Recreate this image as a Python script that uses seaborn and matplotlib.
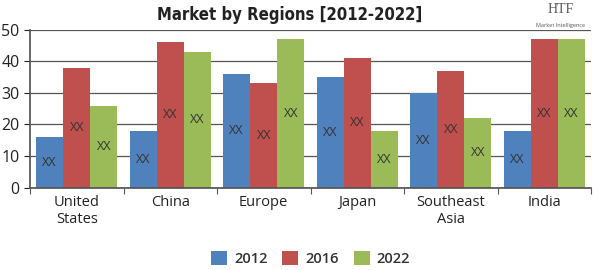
import matplotlib
matplotlib.use("Agg")
import matplotlib.pyplot as plt
import seaborn as sns
import pandas as pd

regions = ["United\nStates", "China", "Europe", "Japan", "Southeast\nAsia", "India"]
years = ["2012", "2016", "2022"]
v2012 = [16, 18, 36, 35, 30, 18]
v2016 = [38, 46, 33, 41, 37, 47]
v2022 = [26, 43, 47, 18, 22, 47]
bar_labels = ["XX"] * 6
colors = ["#4F81BD", "#C0504D", "#9BBB59"]

df = pd.DataFrame({
    "region": regions * 3,
    "year": [years[0]] * 6 + [years[1]] * 6 + [years[2]] * 6,
    "value": v2012 + v2016 + v2022,
})

sns.set_theme(style="white")
plt.rcParams["font.family"] = ["Open Sans", "DejaVu Sans"]

fig = plt.figure(figsize=(6, 2.7), dpi=100)
ax = fig.add_axes([0.05, 0.305, 0.935, 0.585])

sns.barplot(data=df, x="region", y="value", hue="year", palette=colors,
            width=0.87, gap=0, saturation=1, ax=ax, legend=True, linewidth=0,
            edgecolor="none")

for c in ax.containers:
    ax.bar_label(c, labels=bar_labels, label_type="center", fontsize=9, color="#333333")

ax.set_ylim(0, 50)
ax.set_yticks([0, 10, 20, 30, 40, 50])
ax.yaxis.grid(True, color="#555555", linewidth=0.9)
ax.set_axisbelow(True)
ax.set_xlabel("")
ax.set_ylabel("")
for s in ["top", "right"]:
    ax.spines[s].set_visible(False)
ax.spines["left"].set_color("#555555")
ax.spines["bottom"].set_color("#555555")
ax.tick_params(axis="y", labelsize=11.5, colors="#222222", length=4, left=True, width=0.8)
ax.tick_params(axis="x", labelsize=10.5, colors="#222222", length=0, pad=5)
for t in ax.get_yticklabels():
    t.set_color("#222222")
ax.set_xticks([i + 0.5 for i in range(-1, 6)], minor=True)
ax.tick_params(axis="x", which="minor", length=4, bottom=True, color="#555555", width=0.8)
ax.set_xlim(-0.5, 5.5)

leg = ax.legend(loc="upper center", bbox_to_anchor=(0.5, -0.32), ncol=3, frameon=False,
                fontsize=10.5, handlelength=1.1, handleheight=1.1, columnspacing=1.0,
                handletextpad=0.5)
for t in leg.get_texts():
    t.set_color("#333333")
    t.set_fontweight("semibold")

fig.text(0.483, 0.945, "Market by Regions [2012-2022]", ha="center", va="center",
         fontsize=12, fontweight="heavy", color="#222222", fontstretch="condensed",
         family=["DejaVu Sans"])
fig.text(0.935, 0.965, "HTF", ha="center", va="center", fontsize=10, color="#555555",
         family="Liberation Serif")
fig.text(0.935, 0.905, "Market Intelligence", ha="center", va="center", fontsize=4,
         color="#555555")

fig.savefig("out.png", dpi=100)
